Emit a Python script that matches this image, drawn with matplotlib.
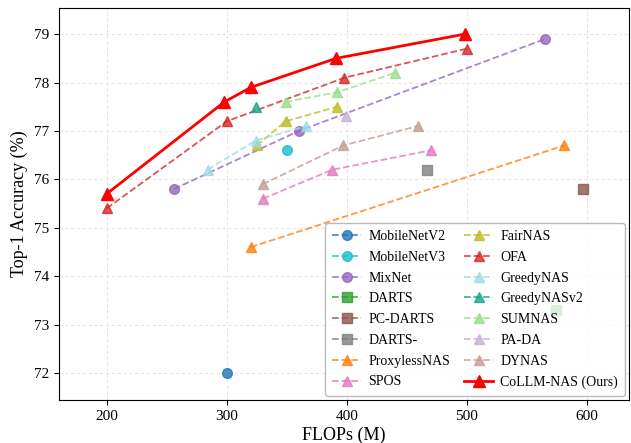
import matplotlib.pyplot as plt

plt.rcParams['font.family'] = ['Liberation Serif', 'DejaVu Serif']

# method -> (flops, top1)
names = ['MobileNetV2', 'MobileNetV3', 'MixNet', 'DARTS', 'PC-DARTS', 'DARTS-',
         'ProxylessNAS', 'SPOS', 'FairNAS', 'OFA', 'GreedyNAS', 'GreedyNASv2',
         'SUMNAS', 'PA-DA', 'DYNAS', 'CoLLM-NAS (Ours)']
flops = [
    [300],
    [350],
    [256, 360, 565],
    [574],
    [597],
    [467],
    [320, 581],
    [330, 388, 470],
    [325, 349, 392],
    [200, 300, 398, 500],
    [284, 324, 366],
    [324],
    [349, 392, 440],
    [399],
    [330, 397, 459],
    [200, 298, 320, 391, 498],
]
acc = [
    [72.0],
    [76.6],
    [75.8, 77.0, 78.9],
    [73.3],
    [75.8],
    [76.2],
    [74.6, 76.7],
    [75.6, 76.2, 76.6],
    [76.7, 77.2, 77.5],
    [75.4, 77.2, 78.1, 78.7],
    [76.2, 76.8, 77.1],
    [77.5],
    [77.6, 77.8, 78.2],
    [77.3],
    [75.9, 76.7, 77.1],
    [75.7, 77.6, 77.9, 78.5, 79.0],
]
colors = ['#1f77b4', '#17becf', '#9467bd', '#2ca02c', '#8c564b', '#7f7f7f',
          '#ff7f0e', '#e377c2', '#bcbd22', '#d62728', '#9edae5', '#17a589',
          '#98df8a', '#c5b0d5', '#c49c94', '#ff0000']
markers = ['o', 'o', 'o', 's', 's', 's', '^', '^', '^', '^', '^', '^', '^', '^', '^', '^']

fig = plt.figure(figsize=(6.31, 4.43), dpi=100)
ax = fig.add_axes([0.093, 0.097, 0.904, 0.886])

for i, name in enumerate(names):
    if name.startswith('CoLLM'):
        ax.plot(flops[i], acc[i], '-', marker='^', color=colors[i], lw=2,
                markersize=8, label=name, zorder=5)
    else:
        ax.plot(flops[i], acc[i], '--', marker=markers[i], color=colors[i],
                lw=1.3, markersize=7, alpha=0.8, label=name)

ax.set_xlim(160, 635)
ax.set_ylim(71.44, 79.55)
ax.set_xticks([200, 300, 400, 500, 600])
ax.set_yticks(range(72, 80))
ax.tick_params(labelsize=11, length=3.5)
ax.grid(True, ls=(0, (3, 3)), color='#e2e2e2', lw=0.7)
ax.set_xlabel('FLOPs (M)', fontsize=13, labelpad=3)
ax.set_ylabel('Top-1 Accuracy (%)', fontsize=13, labelpad=4)

leg = ax.legend(loc='lower right', ncol=2, fontsize=10, framealpha=0.8,
                edgecolor='#aaaaaa', handlelength=2.1, columnspacing=1.0,
                labelspacing=0.56, borderpad=0.5, handletextpad=0.5,
                borderaxespad=0.3)
leg.set_zorder(10)

fig.savefig('out.png', dpi=100)
